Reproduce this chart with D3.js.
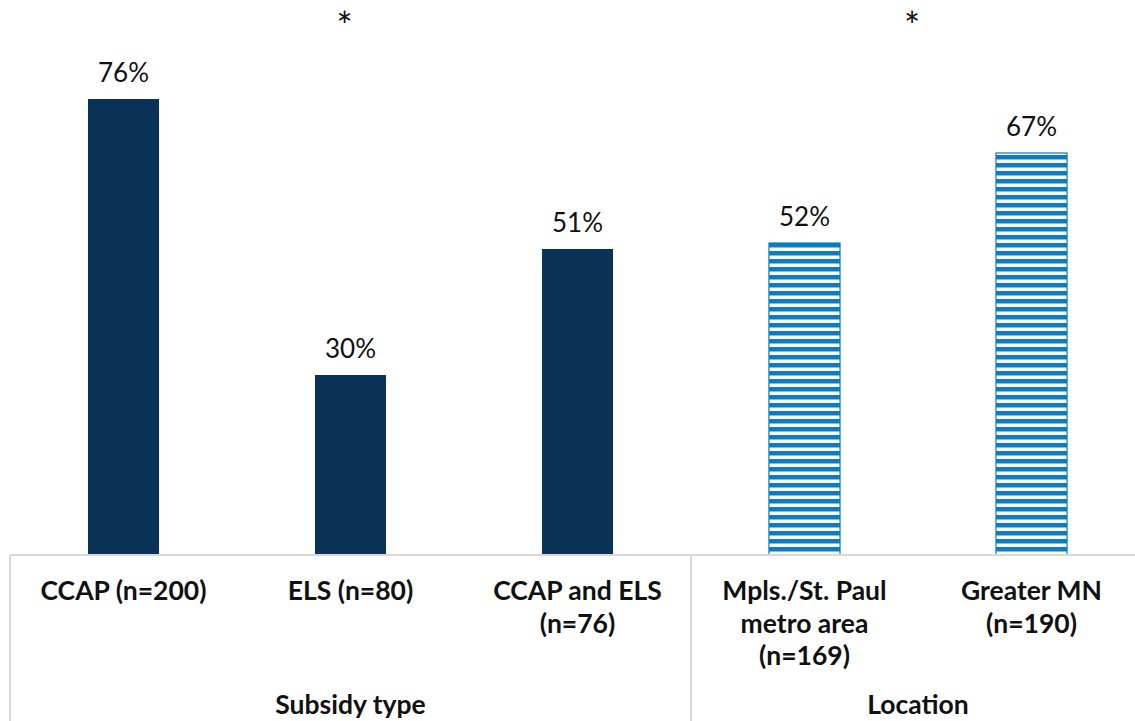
<!DOCTYPE html>
<html>
<head>
<meta charset="utf-8">
<script src="https://cdn.jsdelivr.net/npm/d3@7"></script>
<style>
  html, body { margin: 0; padding: 0; background: #fff; }
  svg { display: block; font-family: Lato, "Open Sans", sans-serif; }
</style>
</head>
<body>
<svg id="chart" width="1135" height="721"></svg>
<script>
// Share of programs, by subsidy type and by location
const categories = [
  "CCAP (n=200)",
  "ELS (n=80)",
  "CCAP and ELS (n=76)",
  "Mpls./St. Paul metro area (n=169)",
  "Greater MN (n=190)"
];
const categoryLines = [
  ["CCAP (n=200)"],
  ["ELS (n=80)"],
  ["CCAP and ELS", "(n=76)"],
  ["Mpls./St. Paul", "metro area", "(n=169)"],
  ["Greater MN", "(n=190)"]
];
const values = [76, 30, 51, 52, 67];
const groupOf = ["Subsidy type", "Subsidy type", "Subsidy type", "Location", "Location"];
const groups = ["Subsidy type", "Location"];
const groupMarks = ["*", "*"];

const svg = d3.select("#chart");

const baseY = 555;
const x = d3.scaleBand()
  .domain(categories)
  .range([10, 1145])
  .paddingInner(0.687)
  .paddingOuter(0.687 / 2);
const y = d3.scaleLinear().domain([0, 90]).range([baseY, 15]);

// Striped fill for the location bars
const defs = svg.append("defs");
const pat = defs.append("pattern")
  .attr("id", "stripes")
  .attr("patternUnits", "userSpaceOnUse")
  .attr("x", 0).attr("y", 3)
  .attr("width", 8).attr("height", 8);
pat.append("rect").attr("width", 8).attr("height", 8).attr("fill", "#ffffff");
pat.append("rect").attr("y", 0).attr("width", 8).attr("height", 4.5).attr("fill", "#0a7dc2");

const step = x.step();
const cellLeft = d => x(d) - x.paddingOuter() * step;

// Bars
svg.append("g").selectAll("rect")
  .data(categories)
  .join("rect")
  .attr("x", d => x(d))
  .attr("y", (d, i) => y(values[i]))
  .attr("width", x.bandwidth())
  .attr("height", (d, i) => baseY - y(values[i]))
  .attr("fill", (d, i) => groupOf[i] === "Location" ? "url(#stripes)" : "#0b3358")
  .attr("stroke", (d, i) => groupOf[i] === "Location" ? "#0a7dc2" : "none")
  .attr("stroke-width", 1.2);

// Value labels
svg.append("g").selectAll("text")
  .data(categories)
  .join("text")
  .attr("x", d => x(d) + x.bandwidth() / 2)
  .attr("y", (d, i) => y(values[i]) - 17)
  .attr("text-anchor", "middle")
  .attr("font-size", 26)
  .attr("fill", "#111")
  .text((d, i) => values[i] + "%");

// Category axis: baseline and group dividers
const axisColor = "#d9d9d9";
svg.append("line")
  .attr("x1", 10).attr("x2", 1135)
  .attr("y1", baseY).attr("y2", baseY)
  .attr("stroke", axisColor).attr("stroke-width", 2);

const groupSpans = groups.map(g => {
  const members = categories.filter((c, i) => groupOf[i] === g);
  const x0 = cellLeft(members[0]);
  const x1 = cellLeft(members[members.length - 1]) + step;
  return { name: g, x0, x1 };
});

svg.append("g").selectAll("line")
  .data(groupSpans)
  .join("line")
  .attr("x1", d => d.x0).attr("x2", d => d.x0)
  .attr("y1", baseY).attr("y2", 721)
  .attr("stroke", axisColor).attr("stroke-width", 2);

// Category labels
const catG = svg.append("g").selectAll("text")
  .data(categories)
  .join("text")
  .attr("x", d => x(d) + x.bandwidth() / 2)
  .attr("y", 600)
  .attr("text-anchor", "middle")
  .attr("font-size", 26.5)
  .attr("font-weight", "bold")
  .attr("fill", "#111");
catG.each(function (d, i) {
  const t = d3.select(this);
  categoryLines[i].forEach((line, k) => {
    t.append("tspan")
      .attr("x", x(d) + x.bandwidth() / 2)
      .attr("dy", k === 0 ? 0 : 32.5)
      .text(line);
  });
});

// Group labels
svg.append("g").selectAll("text")
  .data(groupSpans)
  .join("text")
  .attr("x", d => (d.x0 + d.x1) / 2)
  .attr("y", 714)
  .attr("text-anchor", "middle")
  .attr("font-size", 26.5)
  .attr("font-weight", "bold")
  .attr("fill", "#111")
  .text(d => d.name);

// Significance markers above each group
svg.append("g").selectAll("text")
  .data(groupSpans)
  .join("text")
  .attr("x", d => (d.x0 + d.x1) / 2 - 6)
  .attr("y", 40)
  .attr("text-anchor", "middle")
  .attr("font-size", 38)
  .attr("fill", "#111")
  .text((d, i) => groupMarks[i]);
</script>
</body>
</html>
